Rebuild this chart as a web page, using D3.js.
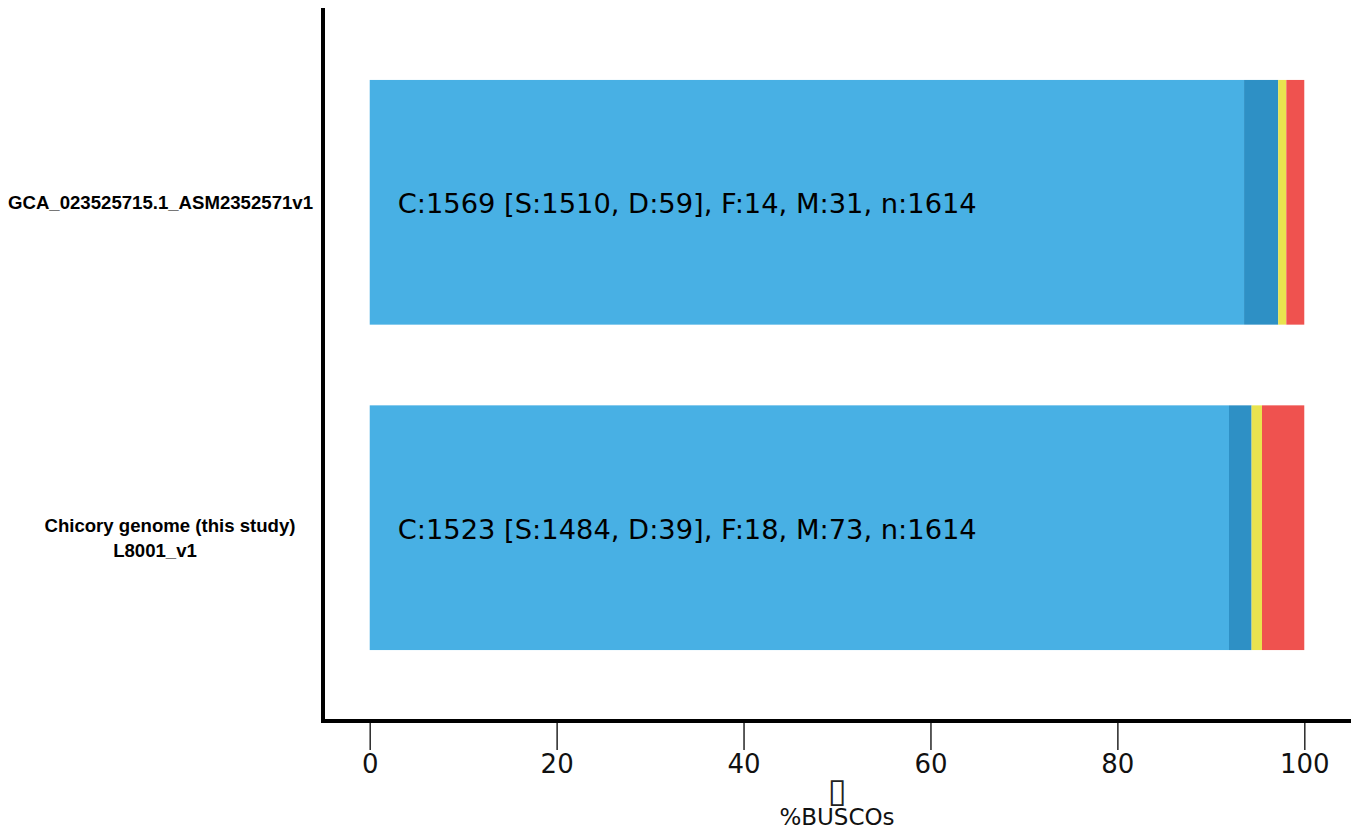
<!DOCTYPE html>
<html>
<head>
<meta charset="UTF-8">
<title>BUSCO</title>
<script src="https://d3js.org/d3.v7.min.js"></script>
<style>
  body { margin:0; background:#fff; }
  svg text { font-family: "DejaVu Sans", sans-serif; }
  .ylab { font-family: "Liberation Sans", Arial, sans-serif !important; font-weight:bold; font-size:18.6px; }
</style>
</head>
<body>
<div id="chart"></div>
<script>
// data
const assemblies = ['GCA_023525715.1_ASM2352571v1', 'Chicory genome (this study)\nL8001_v1'];
const singleCopy = [1510, 1484];
const duplicated = [59, 39];
const fragmented = [14, 18];
const missing = [31, 73];
const total = [1614, 1614];
const xTicks = [0, 20, 40, 60, 80, 100];
const cats = ['S', 'D', 'F', 'M'];
const colors = {S:'#48b0e4', D:'#2e90c5', F:'#e9e34f', M:'#ef524f'};

const W = 1357, H = 833;
const svg = d3.select('#chart').append('svg').attr('width', W).attr('height', H);

const x = d3.scaleLinear().domain([-5, 105]).range([323, 1351]);
const y = d3.scaleBand().domain(assemblies).range([9, 721]).paddingInner(0.248).paddingOuter(0.218);

const rows = assemblies.map((a, i) => {
  const vals = {S: singleCopy[i], D: duplicated[i], F: fragmented[i], M: missing[i]};
  let acc = 0;
  const segs = cats.map(k => {
    const p = vals[k] / total[i] * 100;
    const s = {key:k, x0:acc, x1:acc + p};
    acc += p;
    return s;
  });
  return {name:a, segs, i};
});

const g = svg.append('g');
rows.forEach(r => {
  g.selectAll(null).data(r.segs).enter().append('rect')
    .attr('x', d => x(d.x0))
    .attr('width', d => x(d.x1) - x(d.x0))
    .attr('y', y(r.name))
    .attr('height', y.bandwidth())
    .attr('fill', d => colors[d.key]);
  const i = r.i;
  g.append('text')
    .attr('x', x(0) + 28)
    .attr('y', y(r.name) + y.bandwidth() / 2 + 11)
    .attr('font-size', 27.3)
    .attr('fill', '#000')
    .text(`C:${singleCopy[i] + duplicated[i]} [S:${singleCopy[i]}, D:${duplicated[i]}], F:${fragmented[i]}, M:${missing[i]}, n:${total[i]}`);
});

// y labels
const yl = svg.append('g');
yl.append('text').attr('class', 'ylab')
  .attr('x', 313).attr('y', y(assemblies[0]) + y.bandwidth() / 2 + 7)
  .attr('text-anchor', 'end').text(assemblies[0]);
const lines = assemblies[1].split('\n');
const cy = y(assemblies[1]) + y.bandwidth() / 2;
yl.append('text').attr('class', 'ylab')
  .attr('x', 170).attr('y', cy + 4).attr('text-anchor', 'middle').text(lines[0]);
yl.append('text').attr('class', 'ylab')
  .attr('x', 155).attr('y', cy + 29).attr('text-anchor', 'middle').text(lines[1]);

// x axis
const ax = svg.append('g').attr('transform', 'translate(0,723)')
  .call(d3.axisBottom(x).tickValues(xTicks).tickSize(27).tickPadding(5).tickFormat(d3.format('d')));
ax.select('.domain').remove();
ax.selectAll('.tick line').attr('stroke', '#333').attr('stroke-width', 1.6);
ax.selectAll('.tick text').attr('font-size', 26).attr('font-family', 'DejaVu Sans').attr('fill', '#111');

// spines
svg.append('line').attr('x1', 323).attr('x2', 323).attr('y1', 8).attr('y2', 723)
  .attr('stroke', '#000').attr('stroke-width', 4);
svg.append('line').attr('x1', 321).attr('x2', 1351).attr('y1', 721).attr('y2', 721)
  .attr('stroke', '#000').attr('stroke-width', 4);

// axis title
svg.append('text').attr('x', 837).attr('y', 802).attr('text-anchor', 'middle')
  .attr('font-size', 34).attr('fill', '#222').text('\u25AF');
svg.append('text').attr('x', 837).attr('y', 825).attr('text-anchor', 'middle')
  .attr('font-size', 23).attr('fill', '#111').text('%BUSCOs');
</script>
</body>
</html>
